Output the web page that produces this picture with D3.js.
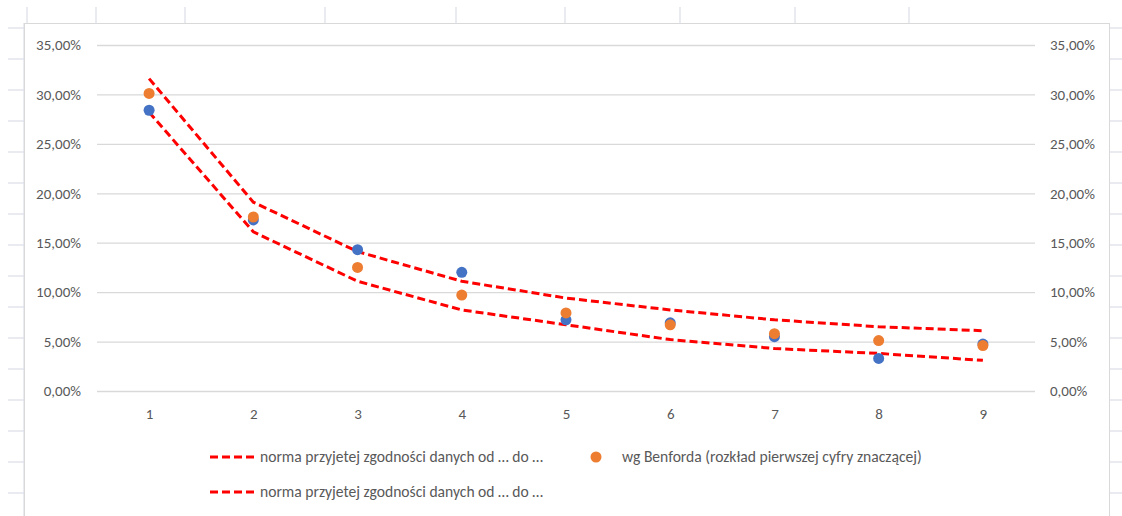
<!DOCTYPE html>
<html>
<head>
<meta charset="utf-8">
<script src="https://cdn.jsdelivr.net/npm/d3@7"></script>
<style>
  html, body { margin: 0; padding: 0; background: #ffffff; }
  svg { display: block; }
  text { font-family: Carlito, Calibri, Lato, "Open Sans", sans-serif; fill: #595959; }
</style>
</head>
<body>
<svg id="chart" width="1122" height="516"></svg>
<script>
// First significant digit
const digits = [1, 2, 3, 4, 5, 6, 7, 8, 9];

// Observed share of each first digit in the data set
const observed = [0.284, 0.173, 0.143, 0.120, 0.072, 0.069, 0.055, 0.033, 0.0475];

// Benford's law: log10(1 + 1/d)
const benford = [0.301, 0.176, 0.125, 0.097, 0.079, 0.067, 0.058, 0.051, 0.046];

// Acceptance band: upper and lower limits
const upperBound = [0.316, 0.191, 0.141, 0.111, 0.094, 0.082, 0.072, 0.065, 0.061];
const lowerBound = [0.282, 0.161, 0.111, 0.082, 0.067, 0.052, 0.043, 0.038, 0.031];

const yTicks = [0, 0.05, 0.10, 0.15, 0.20, 0.25, 0.30, 0.35];

const bandLabel = "norma przyjetej zgodności danych od … do …";
const benfordLabel = "wg Benforda (rozkład pierwszej cyfry znaczącej)";

const W = 1122, H = 516;
const svg = d3.select("#chart");
const axisFont = 15;
const legendFont = 15.6;

// Worksheet cell grid showing around the chart object
const sheet = svg.append("g").attr("stroke", "#dde1e8").attr("stroke-width", 1.3);
const colEdges = [27, 96, 185, 325, 456, 565, 680, 795, 909];
colEdges.forEach(x => sheet.append("line").attr("x1", x).attr("x2", x).attr("y1", 7).attr("y2", 23));
d3.range(28, H, 31).forEach(y => {
  sheet.append("line").attr("x1", 8).attr("x2", 24).attr("y1", y).attr("y2", y);
  sheet.append("line").attr("x1", 1110).attr("x2", W).attr("y1", y).attr("y2", y);
});
sheet.append("line").attr("x1", 24).attr("x2", 24).attr("y1", 23).attr("y2", H);

// Chart area
svg.append("rect")
  .attr("x", 24.5).attr("y", 23.5).attr("width", 1085).attr("height", 520)
  .attr("fill", "#ffffff").attr("stroke", "#d9d9d9").attr("stroke-width", 1);

const plotLeft = 97, plotRight = 1035, plotTop = 45, plotBottom = 391;

const x = d3.scalePoint().domain(digits).range([plotLeft, plotRight]).padding(0.5);
const y = d3.scaleLinear().domain([0, 0.35]).range([plotBottom, plotTop]);

const pct = v => d3.format(".2f")(v * 100).replace(".", ",") + "%";

// Horizontal gridlines
svg.append("g")
  .attr("transform", `translate(${plotLeft},0)`)
  .call(d3.axisRight(y).tickValues(yTicks).tickSize(plotRight - plotLeft).tickFormat(""))
  .call(g => g.select(".domain").remove())
  .call(g => g.selectAll(".tick line").attr("stroke", "#d9d9d9").attr("stroke-width", 1.3));

const styleText = g => g.selectAll("text").attr("font-size", axisFont).attr("fill", "#595959")
  .attr("font-family", "Carlito, Calibri, Lato, sans-serif");

// Left value axis
svg.append("g")
  .attr("transform", `translate(${plotLeft},0)`)
  .call(d3.axisLeft(y).tickValues(yTicks).tickSize(0).tickPadding(16).tickFormat(pct))
  .call(g => g.select(".domain").remove())
  .call(styleText);

// Right value axis
svg.append("g")
  .attr("transform", `translate(${plotRight},0)`)
  .call(d3.axisRight(y).tickValues(yTicks).tickSize(0).tickPadding(15).tickFormat(pct))
  .call(g => g.select(".domain").remove())
  .call(styleText);

// Category axis
svg.append("g")
  .attr("transform", `translate(0,${plotBottom})`)
  .call(d3.axisBottom(x).tickSize(0).tickPadding(17))
  .call(g => g.select(".domain").remove())
  .call(styleText);

// Acceptance band lines
const line = d3.line().x((d, i) => x(digits[i])).y(d => y(d));
[upperBound, lowerBound].forEach(series => {
  svg.append("path")
    .datum(series)
    .attr("d", line)
    .attr("fill", "none")
    .attr("stroke", "#ff0000")
    .attr("stroke-width", 3)
    .attr("stroke-dasharray", "8,4");
});

// Observed frequencies (blue), Benford expectation (orange) on top
svg.append("g").selectAll("circle")
  .data(observed).join("circle")
  .attr("cx", (d, i) => x(digits[i])).attr("cy", d => y(d)).attr("r", 5.5)
  .attr("fill", "#4472c4");

svg.append("g").selectAll("circle")
  .data(benford).join("circle")
  .attr("cx", (d, i) => x(digits[i])).attr("cy", d => y(d)).attr("r", 5.5)
  .attr("fill", "#ed7d31");

// Legend
const legend = svg.append("g").attr("font-size", legendFont);
const legendRows = [
  { kind: "line", lx: 210, ty: 457, label: bandLabel },
  { kind: "dot", lx: 596, ty: 457, label: benfordLabel },
  { kind: "line", lx: 210, ty: 492, label: bandLabel }
];
legendRows.forEach(r => {
  if (r.kind === "line") {
    legend.append("line")
      .attr("x1", r.lx).attr("x2", r.lx + 45).attr("y1", r.ty).attr("y2", r.ty)
      .attr("stroke", "#ff0000").attr("stroke-width", 3).attr("stroke-dasharray", "8,4");
    legend.append("text").attr("x", r.lx + 50).attr("y", r.ty).attr("dy", "0.35em").text(r.label);
  } else {
    legend.append("circle").attr("cx", r.lx).attr("cy", r.ty).attr("r", 5.5).attr("fill", "#ed7d31");
    legend.append("text").attr("x", r.lx + 26).attr("y", r.ty).attr("dy", "0.35em").text(r.label);
  }
});
</script>
</body>
</html>
